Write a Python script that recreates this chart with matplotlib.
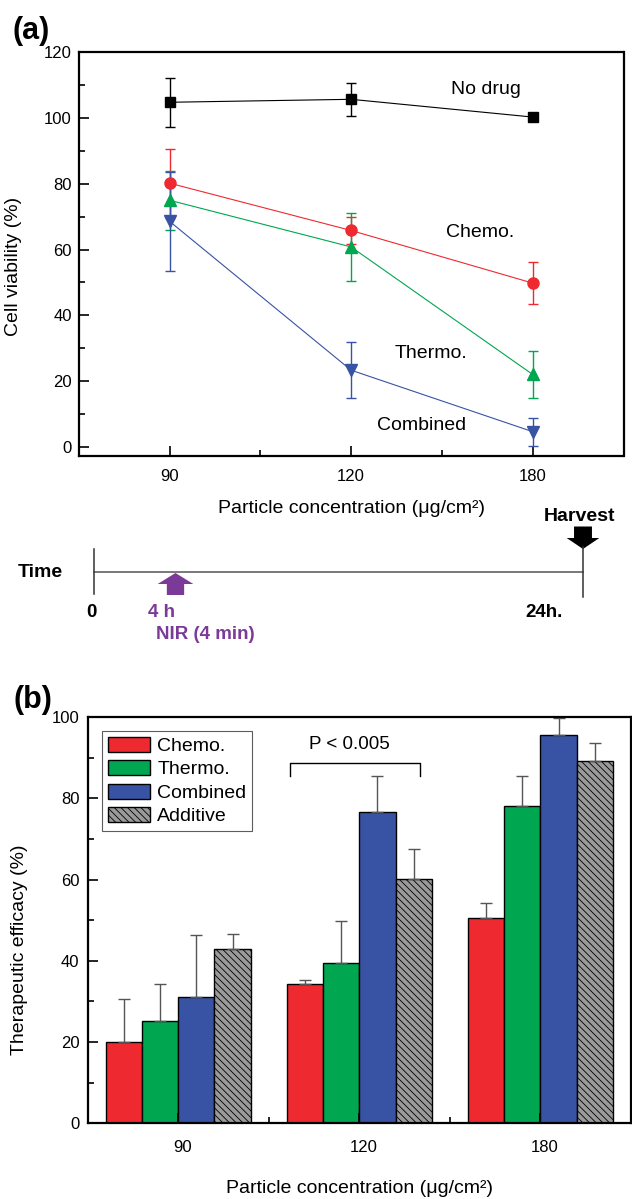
import matplotlib
matplotlib.use('Agg')
import matplotlib.pyplot as plt
import matplotlib.transforms as mtransforms
import numpy as np
from matplotlib.ticker import FixedLocator, MultipleLocator
from matplotlib.patches import FancyArrow

plt.rcParams['font.family'] = ['Liberation Sans', 'DejaVu Sans']
plt.rcParams['hatch.linewidth'] = 0.6

# ---------------- Panel (a) data: cell viability (%) ----------------
concentrations = ['90', '120', '180']
nodrug = [104.8, 105.7, 100.3]
nodrug_err = [7.5, 5.0, 0.6]
chemo_a = [80.2, 65.8, 49.8]
chemo_a_err = [10.5, 4.0, 6.5]
thermo_a = [75.0, 60.8, 22.0]
thermo_a_err = [9.0, 10.3, 7.2]
combined_a = [68.6, 23.3, 4.6]
combined_a_err = [15.0, 8.5, 4.3]

# ---------------- Panel (b) data: therapeutic efficacy (%) ----------------
series_b = ['Chemo.', 'Thermo.', 'Combined', 'Additive']
chemo_b = [19.9, 34.2, 50.5]
chemo_b_err = [10.7, 1.1, 3.8]
thermo_b = [25.1, 39.5, 78.2]
thermo_b_err = [9.3, 10.3, 7.3]
combined_b = [31.2, 76.7, 95.5]
combined_b_err = [15.1, 8.7, 4.3]
additive_b = [42.8, 60.1, 89.2]
additive_b_err = [3.9, 7.5, 4.4]

# ---------------- Timeline (hours) ----------------
time_start = 0
time_nir = 4
time_end = 24

W, H = 632, 1199
fig = plt.figure(figsize=(W / 100, H / 100), dpi=100)

def style_axes(ax):
    for s in ax.spines.values():
        s.set_linewidth(1.6)
    ax.tick_params(which='both', direction='in', top=False, right=False, width=1.2, labelsize=12)
    ax.tick_params(which='major', length=7)
    ax.tick_params(which='minor', length=4)

# ======== Panel (a) ========
ax1 = fig.add_axes([78.7 / W, 1 - 456 / H, (623.5 - 78.7) / W, (456 - 52.3) / H])
x = np.arange(1, len(concentrations) + 1)
red, green, blue = '#EE2A30', '#00A650', '#3953A4'
lines_a = [
    (nodrug, nodrug_err, 's', 'black', 7),
    (chemo_a, chemo_a_err, 'o', red, 8),
    (thermo_a, thermo_a_err, '^', green, 8.5),
    (combined_a, combined_a_err, 'v', blue, 8.5),
]
for vals, errs, m, c, ms in lines_a:
    ax1.errorbar(x, vals, yerr=errs, fmt='-', marker=m, color=c, ms=ms, lw=0.8,
                 elinewidth=1, capsize=3.5, capthick=1)
ax1.set_xlim(0.5, 3.5)
ax1.set_ylim(-2.8, 120)
ax1.set_xticks(x)
ax1.set_xticklabels(concentrations)
ax1.xaxis.set_minor_locator(FixedLocator([1.5, 2.5]))
ax1.yaxis.set_major_locator(MultipleLocator(20))
ax1.yaxis.set_minor_locator(MultipleLocator(10))
style_axes(ax1)
ax1.tick_params(axis='x', pad=9)
ax1.tick_params(axis='y', pad=5)
ax1.set_xlabel('Particle concentration (μg/cm²)', fontsize=14, labelpad=12)
ax1.set_ylabel('Cell viability (%)', fontsize=14)
ax1.yaxis.set_label_coords(-0.104, 0.47)
ax1.text(2.74, 108.7, 'No drug', fontsize=14, ha='center', va='center')
ax1.text(2.71, 65.2, 'Chemo.', fontsize=14, ha='center', va='center')
ax1.text(2.44, 28.4, 'Thermo.', fontsize=14, ha='center', va='center')
ax1.text(2.39, 6.6, 'Combined', fontsize=14, ha='center', va='center')

# ======== Timeline ========
axt = fig.add_axes([0, 1 - 650 / H, 1, 150 / H])
px_per_h = (583 - 94) / 24
axt.set_xlim(-94 / px_per_h, (W - 94) / px_per_h)
axt.set_ylim(650, 500)
axt.axis('off')
axt.plot([time_start, time_end], [572.3, 572.3], color='#555555', lw=1.1)
axt.plot([time_start, time_start], [549, 594], color='#333333', lw=1.1)
axt.plot([time_end, time_end], [547, 597], color='#333333', lw=1.1)
purple = '#7B3A98'
axt.add_patch(FancyArrow(time_nir, 595, 0, -22, width=0.85, head_width=1.75, head_length=11,
                         length_includes_head=True, color=purple, lw=0))
axt.add_patch(FancyArrow(time_end, 526.5, 0, 22.5, width=0.88, head_width=1.6, head_length=11,
                         length_includes_head=True, color='black', lw=0))
axt.text(-2.65, 573, 'Time', fontsize=14, fontweight='bold', ha='center', va='center')
axt.text(time_start - 0.12, 613, '0', fontsize=13.5, fontweight='bold', ha='center', va='center')
axt.text(time_nir - 0.69, 613, '4 h', fontsize=13.5, fontweight='bold', ha='center', va='center', color=purple)
axt.text(time_nir + 1.48, 635, 'NIR (4 min)', fontsize=13.5, fontweight='bold', ha='center', va='center', color=purple)
axt.text(time_end - 1.9, 613, '24h.', fontsize=13.5, fontweight='bold', ha='center', va='center')
axt.text(time_end - 0.17, 517, 'Harvest', fontsize=14, fontweight='bold', ha='center', va='center')

# ======== Panel (b) ========
ax2 = fig.add_axes([87.6 / W, 1 - 1123.3 / H, (631 - 87.6) / W, 406.3 / H])
width = 0.2
offsets = [-0.3, -0.1, 0.1, 0.3]
bar_vals = [chemo_b, thermo_b, combined_b, additive_b]
bar_errs = [chemo_b_err, thermo_b_err, combined_b_err, additive_b_err]
bar_colors = [red, green, blue, '#9a9a9a']
hatches = [None, None, None, '\\' * 5]
for i in range(len(series_b)):
    ax2.bar(x + offsets[i], bar_vals[i], width, color=bar_colors[i], edgecolor='black',
            lw=1, hatch=hatches[i], label=series_b[i],
            yerr=[np.zeros(len(x)), bar_errs[i]],
            error_kw=dict(ecolor='#555555', elinewidth=1, capsize=4, capthick=1))
ax2.set_xlim(0.5, 3.5)
ax2.set_ylim(0, 100)
ax2.set_xticks(x)
ax2.set_xticklabels(concentrations)
ax2.xaxis.set_minor_locator(FixedLocator([1.5, 2.5]))
ax2.yaxis.set_major_locator(MultipleLocator(20))
ax2.yaxis.set_minor_locator(MultipleLocator(10))
style_axes(ax2)
ax2.tick_params(axis='x', pad=12)
ax2.tick_params(axis='y', pad=6)
shift = mtransforms.ScaledTranslation(0.045, 0, fig.dpi_scale_trans)
for lab in ax2.get_xticklabels():
    lab.set_transform(lab.get_transform() + shift)
ax2.set_xlabel('Particle concentration (μg/cm²)', fontsize=14, labelpad=18)
ax2.set_ylabel('Therapeutic efficacy (%)', fontsize=14)
ax2.yaxis.set_label_coords(-0.11, 0.428)
leg = ax2.legend(loc='upper left', bbox_to_anchor=(0.026, 0.9655), borderaxespad=0,
                 fontsize=14, frameon=True, fancybox=False, edgecolor='#333333',
                 handlelength=2.2, handleheight=0.8, handletextpad=0.35,
                 labelspacing=0.27, borderpad=0.3)
leg.get_frame().set_linewidth(0.8)
# significance bracket
br_left, br_right, br_top, br_bottom = 1.62, 2.337, 88.7, 85.6
ax2.plot([br_left, br_left, br_right, br_right], [br_bottom, br_top, br_top, br_bottom],
         color='black', lw=1)
ax2.text(1.945, 93.2, 'P < 0.005', fontsize=13.5, ha='center', va='center')

fig.text(31 / W, 1 - 30.5 / H, '(a)', fontsize=22, fontweight='bold', ha='center', va='center')
fig.text(33 / W, 1 - 700 / H, '(b)', fontsize=22, fontweight='bold', ha='center', va='center')

fig.savefig('out.png', dpi=100)
